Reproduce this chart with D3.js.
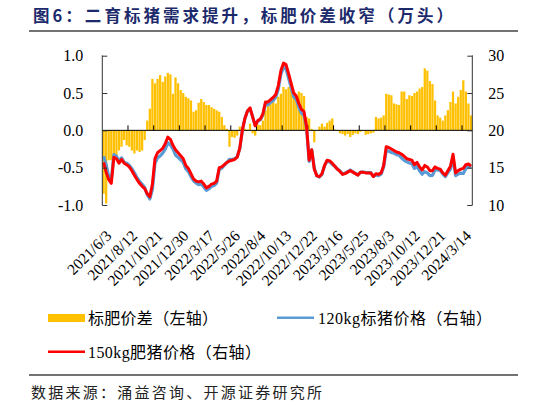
<!DOCTYPE html>
<html lang="zh">
<head>
<meta charset="UTF-8">
<title>图6：二育标猪需求提升，标肥价差收窄</title>
<script src="https://d3js.org/d3.v7.min.js"></script>
<style>
  body { margin: 0; padding: 0; background: #fff; }
  svg { display: block; }
  .serif { font-family: "Liberation Serif", "Times New Roman", "Noto Sans CJK SC", serif; }
</style>
</head>
<body>
<div id="chart"></div>
<script>
// x 轴只显示每 10 周一个标签
const tickLabels = ["2021/6/3","2021/8/12","2021/10/21","2021/12/30","2022/3/17","2022/5/26","2022/8/4",
  "2022/10/13","2022/12/22","2023/3/16","2023/5/25","2023/8/3","2023/10/12","2023/12/21","2024/3/14"];
const labelEvery = 10;

// 标肥价差（左轴）
const spread = [-0.85,-0.98,-0.40,-0.40,-0.36,-0.35,-0.27,-0.22,-0.13,-0.20,
  -0.22,-0.27,-0.31,-0.27,-0.29,-0.27,-0.13,0.13,0.29,0.69,
  0.63,0.69,0.74,0.65,0.72,0.77,0.75,0.49,0.71,0.63,
  0.54,0.50,0.45,0.43,0.40,0.25,0.27,0.37,0.42,0.38,
  0.34,0.34,0.31,0.29,0.27,0.25,0.18,0.07,0.02,-0.22,
  -0.09,-0.10,-0.07,0.05,0.03,0.02,0.01,0.09,-0.04,-0.07,
  0.08,0.07,0.13,0.27,0.40,0.36,0.42,0.36,0.45,0.49,
  0.58,0.55,0.58,0.56,0.50,0.43,0.52,0.50,0.46,0.18,
  0.16,0.02,-0.16,0.00,0.05,0.09,0.05,0.10,0.13,0.16,
  0.01,-0.01,-0.04,-0.05,-0.07,-0.05,-0.09,-0.06,-0.04,-0.05,
  -0.02,-0.01,-0.06,-0.05,-0.04,-0.03,0.18,0.16,0.17,0.20,
  0.49,0.48,0.47,0.36,0.35,0.34,0.52,0.52,0.42,0.47,
  0.46,0.50,0.52,0.56,0.58,0.83,0.80,0.66,0.62,0.40,
  0.20,0.17,0.13,0.20,0.27,0.38,0.52,0.36,0.45,0.54,
  0.67,0.52,0.36,0.20];

// 120kg标猪价格（右轴）
const price120 = [16.55,15.38,13.80,13.30,16.76,16.55,15.87,16.32,15.73,15.60,
  15.32,14.87,14.31,13.67,13.19,12.77,12.33,11.37,10.81,12.11,
  15.57,16.31,16.56,16.95,17.48,18.33,18.05,17.51,16.69,16.37,
  16.06,15.70,14.85,14.47,13.80,13.25,12.93,12.73,12.78,12.42,
  11.96,12.16,12.49,12.61,12.93,14.75,14.92,15.33,15.68,16.12,
  16.09,16.20,16.47,17.55,19.97,21.58,22.59,22.91,21.84,20.67,
  21.22,21.43,22.07,23.53,23.40,23.74,23.98,24.44,25.55,27.51,
  28.42,28.25,27.02,25.74,24.50,24.17,23.08,22.30,22.04,20.32,
  15.84,17.38,14.96,13.90,13.75,14.11,15.25,15.90,15.77,15.44,
  15.19,14.81,14.54,14.15,14.27,14.45,14.69,14.46,14.24,14.05,
  14.42,14.41,14.36,14.35,14.34,13.83,14.02,13.94,14.13,15.10,
  17.31,17.22,17.03,16.94,16.75,16.66,16.28,15.98,15.78,15.63,
  15.54,14.90,15.18,14.54,14.12,14.47,14.30,13.94,13.98,14.70,
  14.70,14.63,14.17,13.80,14.33,14.82,16.28,13.94,14.15,14.26,
  14.23,14.88,15.14,15.00];

// 150kg肥猪价格（右轴）
const price150 = [15.7,14.4,13.4,12.9,16.4,16.2,15.6,16.1,15.6,15.4,
  15.1,14.6,14.0,13.4,12.9,12.5,12.2,11.5,11.1,12.8,
  16.2,17.0,17.3,17.6,18.2,19.1,18.8,18.0,17.4,17.0,
  16.6,16.2,15.3,14.9,14.2,13.5,13.2,13.1,13.2,12.8,
  12.3,12.5,12.8,12.9,13.2,15.0,15.1,15.4,15.7,15.9,
  16.0,16.1,16.4,17.6,20.0,21.6,22.6,23.0,21.8,20.6,
  21.3,21.5,22.2,23.8,23.8,24.1,24.4,24.8,26.0,28.0,
  29.0,28.8,27.6,26.3,25.0,24.6,23.6,22.8,22.5,20.5,
  16.0,17.4,14.8,13.9,13.8,14.2,15.3,16.0,15.9,15.6,
  15.2,14.8,14.5,14.1,14.2,14.4,14.6,14.4,14.2,14.0,
  14.4,14.4,14.3,14.3,14.3,13.8,14.2,14.1,14.3,15.3,
  17.8,17.7,17.5,17.3,17.1,17.0,16.8,16.5,16.2,16.1,
  16.0,15.4,15.7,15.1,14.7,15.3,15.1,14.6,14.6,15.1,
  14.9,14.8,14.3,14.0,14.6,15.2,16.8,14.3,14.6,14.8,
  14.9,15.4,15.5,15.2];

const leftTicks = [-1.0, -0.5, 0.0, 0.5, 1.0];
const rightTicks = [10, 15, 20, 25, 30];

const W = 546, H = 405;
const plot = { left: 102.3, right: 472.3, top: 55.7, bottom: 205 };

const svg = d3.select("#chart").append("svg")
  .attr("width", W).attr("height", H);

// 标题
svg.append("text")
  .attr("x", 33).attr("y", 22)
  .attr("font-family", "Noto Sans CJK SC, sans-serif")
  .attr("font-weight", "bold").attr("font-size", 16.5)
  .attr("fill", "#1c2a6b")
  .attr("textLength", 420).attr("lengthAdjust", "spacing")
  .text("图6：二育标猪需求提升，标肥价差收窄（万头）");

svg.append("line").attr("x1", 29).attr("x2", 518).attr("y1", 31).attr("y2", 31)
  .attr("stroke", "#444").attr("stroke-width", 1.3);

const idx = d3.range(spread.length);
const x = d3.scaleBand().domain(idx).range([plot.left, plot.right]).paddingInner(0.12).paddingOuter(0.06);
const yL = d3.scaleLinear().domain([-1, 1]).range([plot.bottom, plot.top]);
const yR = d3.scaleLinear().domain([10, 30]).range([plot.bottom, plot.top]);
const step = x.step();

// 柱子
svg.append("g").selectAll("rect").data(idx).join("rect")
  .attr("x", i => x(i))
  .attr("width", x.bandwidth())
  .attr("y", i => Math.min(yL(spread[i]), yL(0)))
  .attr("height", i => Math.abs(yL(spread[i]) - yL(0)))
  .attr("fill", "#FFC000");

// 零线 + 类别刻度（向上）
svg.append("line").attr("x1", plot.left).attr("x2", plot.right)
  .attr("y1", yL(0)).attr("y2", yL(0)).attr("stroke", "#000").attr("stroke-width", 1);
const catTicks = d3.range(labelEvery, spread.length, labelEvery);
svg.append("g").selectAll("line").data(catTicks).join("line")
  .attr("x1", k => plot.left + k * step).attr("x2", k => plot.left + k * step)
  .attr("y1", yL(0)).attr("y2", yL(0) - 5)
  .attr("stroke", "#000").attr("stroke-width", 1);

// 折线
const cx = i => x(i) + x.bandwidth() / 2;
const line = arr => d3.line().x(i => cx(i)).y(i => yR(arr[i]))(idx);
svg.append("path").attr("d", line(price120)).attr("fill", "none")
  .attr("stroke", "#5B9BD5").attr("stroke-width", 3.2).attr("stroke-linejoin", "round");
svg.append("path").attr("d", line(price150)).attr("fill", "none")
  .attr("stroke", "#FF0000").attr("stroke-width", 3).attr("stroke-linejoin", "round");

// 左轴
const axL = svg.append("g").attr("transform", `translate(${plot.left},0)`)
  .call(d3.axisLeft(yL).tickValues(leftTicks).tickSize(-5).tickPadding(19).tickFormat(d3.format(".1f")));
axL.select(".domain").attr("stroke", "#333").attr("d", `M-0.5,${plot.top}H0V${plot.bottom}H-0.5`);
axL.selectAll(".tick line").attr("stroke", "#333");
axL.selectAll("text").attr("class", "serif").attr("font-size", 16).attr("fill", "#000")
  .text(d => d3.format(".1f")(d).replace("−", "-"));

// 右轴
const axR = svg.append("g").attr("transform", `translate(${plot.right},0)`)
  .call(d3.axisRight(yR).tickValues(rightTicks).tickSize(-5).tickPadding(16));
axR.select(".domain").attr("stroke", "#333").attr("d", `M0.5,${plot.top}H0V${plot.bottom}H0.5`);
axR.selectAll(".tick line").attr("stroke", "#333");
axR.selectAll("text").attr("class", "serif").attr("font-size", 16).attr("fill", "#000");

// x 轴标签（旋转 -45°）
svg.append("g").selectAll("text").data(tickLabels).join("text")
  .attr("class", "serif").attr("font-size", 15.5).attr("fill", "#000")
  .attr("text-anchor", "end").attr("dy", "0.35em")
  .attr("transform", (d, j) => `translate(${cx(j * labelEvery) + 5},${233}) rotate(-45)`)
  .text(d => d);

// 图例
const lg = svg.append("g").attr("class", "serif").attr("font-size", 16);
lg.append("rect").attr("x", 48).attr("y", 314).attr("width", 37).attr("height", 8).attr("fill", "#FFC000");
lg.append("text").attr("x", 88).attr("y", 318).attr("dy", "0.35em")
  .attr("textLength", 130).attr("lengthAdjust", "spacing").text("标肥价差（左轴）");
lg.append("line").attr("x1", 277).attr("x2", 314).attr("y1", 317.7).attr("y2", 317.7)
  .attr("stroke", "#5B9BD5").attr("stroke-width", 2.5);
lg.append("text").attr("x", 318).attr("y", 318).attr("dy", "0.35em")
  .attr("textLength", 174).attr("lengthAdjust", "spacing").text("120kg标猪价格（右轴）");
lg.append("line").attr("x1", 48).attr("x2", 85).attr("y1", 351.7).attr("y2", 351.7)
  .attr("stroke", "#FF0000").attr("stroke-width", 2.5);
lg.append("text").attr("x", 88).attr("y", 352).attr("dy", "0.35em")
  .attr("textLength", 173).attr("lengthAdjust", "spacing").text("150kg肥猪价格（右轴）");

// 底部来源
svg.append("line").attr("x1", 29).attr("x2", 518).attr("y1", 375).attr("y2", 375)
  .attr("stroke", "#444").attr("stroke-width", 1.3);
svg.append("text").attr("x", 31).attr("y", 393).attr("dy", "0.35em")
  .attr("font-family", "Noto Sans CJK SC, sans-serif").attr("font-size", 15).attr("fill", "#222")
  .attr("textLength", 291).attr("lengthAdjust", "spacing")
  .text("数据来源：涌益咨询、开源证券研究所");
</script>
</body>
</html>
